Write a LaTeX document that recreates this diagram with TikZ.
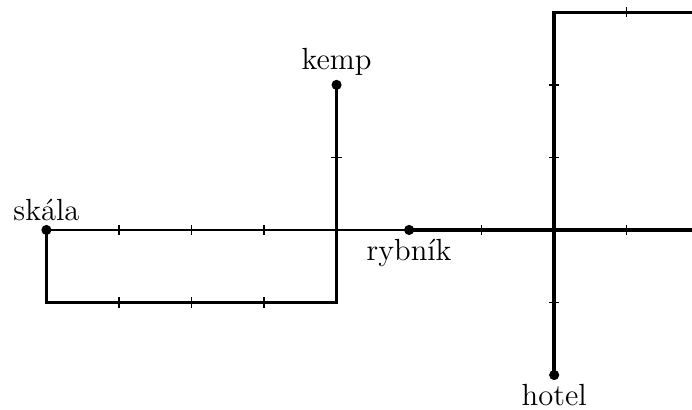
\documentclass[tikz,border=0pt]{standalone}
\usepackage{tikz}
\newcommand\TickV[2]{%
    \draw[semithick] (#1,#2) ++(0,-0.07) -- ++(0,0.14);
}
\newcommand\TickH[2]{%
    \draw[semithick] (#1,#2) ++(-0.07,0) -- ++(0.14,0);
}
\newcommand\Place[3]{%
    \fill (#1) circle (0.07);
    \node[#2] (#1-label) at (#1) {#3};
}

\begin{document}
\begin{tikzpicture}[route/.style={line width=1.4pt},road/.style={semithick},
        every node/.style={font=\large}]
    \useasboundingbox (-7.64,-2.48) rectangle (1.9,3.17);
    \coordinate (skala) at (-7,0);
    \coordinate (kemp) at (-3,2);
    \coordinate (rybnik) at (-2,0);
    \coordinate (hotel) at (0,-2);
    \coordinate (EastEnd) at (1.9,0);
    \coordinate (NorthEast) at (1.9,3);
    % roads
    \draw[road] (skala) -- (rybnik);
    \draw[route] (rybnik) -- (EastEnd);
    \draw[route] (skala) -- ++(0,-1) -| (kemp);
    \draw[route] (hotel) |- (NorthEast);
    % ticks
    \foreach \x in {-6,-5,-4} {\TickV{\x}{0} \TickV{\x}{-1}}
    \foreach \x in {-1,1} {\TickV{\x}{0}}
    \TickV{1}{3}
    \foreach \y in {-1,1,2} {\TickH{0}{\y}}
    \TickH{-3}{1}
    % places
    \Place{skala}{above}{skála}
    \Place{kemp}{above}{kemp}
    \Place{rybnik}{below}{rybník}
    \Place{hotel}{below}{hotel}
\end{tikzpicture}
\end{document}
